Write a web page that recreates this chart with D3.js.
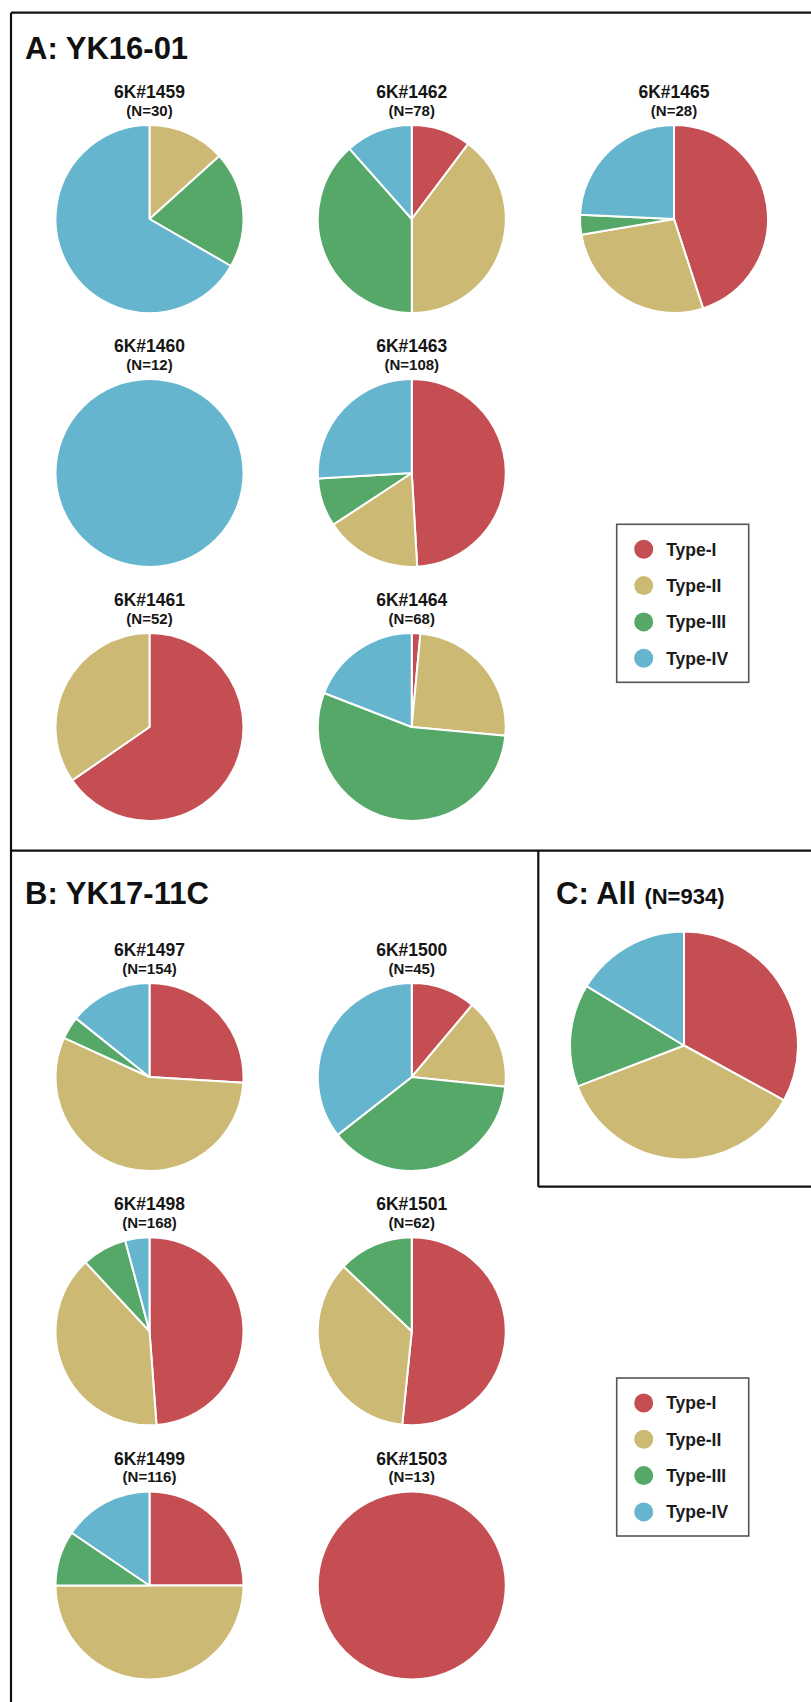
<!DOCTYPE html>
<html>
<head>
<meta charset="utf-8">
<script src="https://cdn.jsdelivr.net/npm/d3@7"></script>
<style>
  html, body { margin: 0; padding: 0; background: #fff; }
  svg { display: block; }
  text { font-family: "Liberation Sans", Arial, Helvetica, sans-serif; font-weight: bold; }
</style>
</head>
<body>
<svg id="fig" width="811" height="1702"></svg>
<script>
// Cell types, in the order they are stacked clockwise from 12 o'clock
const typeNames = ["Type-I", "Type-II", "Type-III", "Type-IV"];
const typeColors = ["#C44E52", "#CCB974", "#55A868", "#64B5CD"];

// A: YK16-01 — samples listed column by column
const samplesA = ["6K#1459", "6K#1460", "6K#1461", "6K#1462", "6K#1463", "6K#1464", "6K#1465"];
const totalsA = [30, 12, 52, 78, 108, 68, 28];
const countsA = [
  [0, 4, 6, 20],
  [0, 0, 0, 12],
  [34, 18, 0, 0],
  [8, 31, 30, 9],
  [53, 18, 9, 28],
  [1, 17, 37, 13],
  [12.6, 7.65, 0.95, 6.8]
];

// B: YK17-11C — samples listed column by column
const samplesB = ["6K#1497", "6K#1498", "6K#1499", "6K#1500", "6K#1501", "6K#1503"];
const totalsB = [154, 168, 116, 45, 62, 13];
const countsB = [
  [40, 86, 6, 22],
  [82, 66, 13, 7],
  [29, 58, 11, 18],
  [5, 7, 17, 16],
  [32, 22, 8, 0],
  [13, 0, 0, 0]
];

// C: all samples pooled
const totalAll = 934;
const countsAll = [308, 338, 136, 152];

const svg = d3.select("#fig");
const W = 811, H = 1702;

svg.append("rect").attr("width", W).attr("height", H).attr("fill", "#fff");

// grid scales
const colX = d3.scalePoint().domain([0, 1, 2]).range([149.5, 674]);
const rowA = d3.scalePoint().domain([0, 1, 2]).range([219, 727]);
const rowB = d3.scalePoint().domain([0, 1, 2]).range([1077, 1585.5]);
const colorOf = d3.scaleOrdinal().domain(typeNames).range(typeColors);

const pie = d3.pie().sort(null).value(d => d.value);

function drawPie(g, counts, r) {
  const data = counts.map((v, i) => ({ type: typeNames[i], value: v })).filter(d => d.value > 0);
  const arc = d3.arc().innerRadius(0).outerRadius(r);
  g.selectAll("path.slice")
    .data(pie(data))
    .join("path")
    .attr("class", "slice")
    .attr("d", arc)
    .attr("fill", d => colorOf(d.data.type))
    .attr("stroke", "#fff")
    .attr("stroke-width", 2)
    .attr("stroke-linejoin", "round");
}

function drawPanel(names, totals, counts, rowScale) {
  const R = 94;
  names.forEach((name, i) => {
    const cx = colX(Math.floor(i / 3));
    const cy = rowScale(i % 3);
    const g = svg.append("g").attr("transform", `translate(${cx},${cy})`);
    drawPie(g, counts[i], R);
    g.append("text")
      .attr("x", 0).attr("y", -R - 27)
      .attr("text-anchor", "middle")
      .attr("font-size", 17.5)
      .attr("fill", "#161616")
      .text(name);
    g.append("text")
      .attr("x", 0).attr("y", -R - 9.5)
      .attr("text-anchor", "middle")
      .attr("font-size", 15)
      .attr("fill", "#161616")
      .text(`(N=${totals[i]})`);
  });
}

function drawLegend(x, y) {
  const w = 132, h = 158, step = 36.3;
  const g = svg.append("g").attr("transform", `translate(${x},${y})`);
  g.append("rect")
    .attr("width", w).attr("height", h)
    .attr("fill", "#fff")
    .attr("stroke", "#555").attr("stroke-width", 1.6);
  const item = g.selectAll("g.item")
    .data(typeNames)
    .join("g")
    .attr("class", "item")
    .attr("transform", (d, i) => `translate(0,${25 + i * step})`);
  item.append("circle")
    .attr("cx", 27).attr("cy", 0).attr("r", 9.5)
    .attr("fill", d => colorOf(d));
  item.append("text")
    .attr("x", 49.5).attr("y", 6.3)
    .attr("font-size", 17.5)
    .attr("fill", "#1c1c1c")
    .text(d => d);
}

// panel frames
const frame = svg.append("g").attr("stroke", "#111").attr("stroke-width", 2.2).attr("fill", "none");
frame.append("line").attr("x1", 11).attr("y1", 12.7).attr("x2", W).attr("y2", 12.7);
frame.append("line").attr("x1", 11).attr("y1", 12.7).attr("x2", 11).attr("y2", H);
frame.append("line").attr("x1", 11).attr("y1", 850.7).attr("x2", W).attr("y2", 850.7);
frame.append("line").attr("x1", 538.3).attr("y1", 850.7).attr("x2", 538.3).attr("y2", 1186.7);
frame.append("line").attr("x1", 538.3).attr("y1", 1186.7).attr("x2", W).attr("y2", 1186.7);

// panel titles
svg.append("text").attr("x", 25).attr("y", 59).attr("font-size", 31).attr("fill", "#111").text("A: YK16-01");
svg.append("text").attr("x", 25).attr("y", 904).attr("font-size", 31).attr("fill", "#111").text("B: YK17-11C");
const cTitle = svg.append("text").attr("x", 556).attr("y", 904).attr("font-size", 31).attr("fill", "#111");
cTitle.append("tspan").text("C: All ");
cTitle.append("tspan").attr("font-size", 22).text(`(N=${totalAll})`);

drawPanel(samplesA, totalsA, countsA, rowA);
drawPanel(samplesB, totalsB, countsB, rowB);

const gAll = svg.append("g").attr("transform", "translate(684,1045.5)");
drawPie(gAll, countsAll, 114);

drawLegend(616.7, 524.3);
drawLegend(616.7, 1378);
</script>
</body>
</html>
